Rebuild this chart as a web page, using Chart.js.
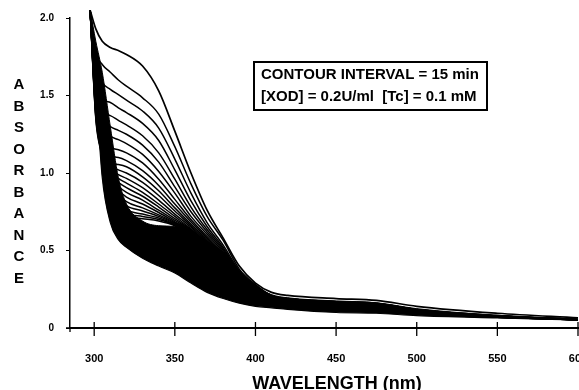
<!DOCTYPE html>
<html>
<head>
<meta charset="utf-8">
<script src="https://cdn.jsdelivr.net/npm/chart.js@4.4.1/dist/chart.umd.min.js"></script>
<style>
  html, body { margin: 0; padding: 0; background: #fff; }
</style>
</head>
<body>
<canvas id="myChart" width="579" height="390"></canvas>
<script>
// spectra (absorbance vs wavelength, nm)
const wavelengths = [297.5, 301, 305, 310, 315, 320, 330, 340, 350, 360, 370, 380, 390, 400, 410, 420, 450, 475, 500, 550, 600];

const topCurve = [2.05, 1.93, 1.85, 1.81, 1.79, 1.765, 1.69, 1.53, 1.27, 1.00, 0.76, 0.58, 0.40, 0.29, 0.23, 0.21, 0.19, 0.178, 0.14, 0.095, 0.065];

// the separated curves between the top one and the dense band
const middleCurves = [
  [2.05, 1.78, 1.70, 1.65, 1.60, 1.56, 1.485, 1.38, 1.17, 0.93, 0.72, 0.565, 0.38, 0.28, 0.21, 0.19, 0.17, 0.16, 0.12, 0.08, 0.055],
  [2.05, 1.70, 1.585, 1.54, 1.505, 1.47, 1.40, 1.29, 1.09, 0.87, 0.68, 0.535, 0.37, 0.275, 0.21, 0.19, 0.17, 0.16, 0.12, 0.08, 0.055],
  [2.05, 1.62, 1.48, 1.455, 1.42, 1.39, 1.32, 1.21, 1.02, 0.82, 0.655, 0.52, 0.36, 0.27, 0.205, 0.185, 0.165, 0.155, 0.115, 0.078, 0.055],
  [2.05, 1.58, 1.40, 1.37, 1.34, 1.31, 1.24, 1.13, 0.96, 0.78, 0.635, 0.51, 0.355, 0.265, 0.205, 0.185, 0.165, 0.155, 0.115, 0.078, 0.055],
  [2.05, 1.55, 1.36, 1.30, 1.275, 1.25, 1.18, 1.07, 0.91, 0.75, 0.62, 0.50, 0.35, 0.26, 0.20, 0.18, 0.16, 0.15, 0.11, 0.077, 0.054],
  [2.05, 1.52, 1.32, 1.24, 1.215, 1.19, 1.12, 1.01, 0.87, 0.72, 0.605, 0.49, 0.345, 0.258, 0.20, 0.18, 0.16, 0.15, 0.11, 0.077, 0.054],
  [2.05, 1.50, 1.30, 1.17, 1.15, 1.13, 1.065, 0.96, 0.83, 0.70, 0.59, 0.48, 0.34, 0.255, 0.195, 0.175, 0.155, 0.145, 0.105, 0.075, 0.054],
  [2.05, 1.48, 1.28, 1.115, 1.10, 1.08, 1.015, 0.92, 0.80, 0.685, 0.58, 0.47, 0.335, 0.252, 0.195, 0.175, 0.155, 0.145, 0.105, 0.075, 0.054],
  [2.05, 1.46, 1.26, 1.075, 1.055, 1.04, 0.975, 0.885, 0.775, 0.67, 0.57, 0.465, 0.33, 0.25, 0.19, 0.17, 0.15, 0.14, 0.10, 0.074, 0.054],
  [2.05, 1.45, 1.24, 1.05, 1.02, 1.00, 0.94, 0.855, 0.755, 0.66, 0.56, 0.46, 0.325, 0.248, 0.19, 0.17, 0.15, 0.14, 0.10, 0.074, 0.053],
  [2.05, 1.44, 1.22, 1.03, 0.99, 0.965, 0.905, 0.825, 0.735, 0.65, 0.555, 0.455, 0.32, 0.245, 0.185, 0.165, 0.145, 0.135, 0.098, 0.073, 0.053],
  [2.05, 1.43, 1.20, 1.01, 0.965, 0.935, 0.875, 0.80, 0.72, 0.64, 0.55, 0.45, 0.318, 0.243, 0.185, 0.165, 0.145, 0.135, 0.098, 0.073, 0.053],
  [2.05, 1.42, 1.18, 0.99, 0.94, 0.905, 0.85, 0.78, 0.705, 0.635, 0.545, 0.445, 0.315, 0.24, 0.18, 0.16, 0.14, 0.13, 0.095, 0.072, 0.053],
  [2.05, 1.41, 1.17, 0.98, 0.915, 0.875, 0.825, 0.76, 0.695, 0.63, 0.54, 0.44, 0.31, 0.238, 0.18, 0.16, 0.14, 0.13, 0.095, 0.072, 0.053],
  [2.05, 1.40, 1.16, 0.97, 0.89, 0.845, 0.80, 0.745, 0.685, 0.625, 0.535, 0.435, 0.305, 0.235, 0.175, 0.155, 0.135, 0.125, 0.092, 0.071, 0.053],
  [2.05, 1.39, 1.15, 0.96, 0.865, 0.815, 0.775, 0.73, 0.68, 0.62, 0.53, 0.43, 0.30, 0.232, 0.175, 0.155, 0.135, 0.125, 0.092, 0.071, 0.053],
  [2.05, 1.38, 1.14, 0.95, 0.845, 0.79, 0.755, 0.72, 0.675, 0.615, 0.525, 0.425, 0.295, 0.23, 0.17, 0.15, 0.13, 0.12, 0.09, 0.07, 0.053],
  [2.05, 1.37, 1.13, 0.94, 0.825, 0.765, 0.735, 0.71, 0.67, 0.61, 0.52, 0.42, 0.29, 0.228, 0.17, 0.15, 0.13, 0.12, 0.09, 0.07, 0.053],
  [2.05, 1.36, 1.12, 0.93, 0.805, 0.745, 0.72, 0.70, 0.665, 0.605, 0.515, 0.415, 0.285, 0.225, 0.165, 0.145, 0.125, 0.115, 0.088, 0.069, 0.053],
  [2.05, 1.35, 1.11, 0.92, 0.785, 0.725, 0.705, 0.69, 0.66, 0.60, 0.51, 0.41, 0.28, 0.222, 0.165, 0.145, 0.125, 0.115, 0.088, 0.069, 0.053],
];

// upper edge of the solid black mass of late curves, and the last (lowest) curve
const denseEdge = [2.05, 1.85, 1.65, 1.30, 0.97, 0.80, 0.69, 0.66, 0.655, 0.62, 0.56, 0.49, 0.37, 0.27, 0.215, 0.195, 0.175, 0.163, 0.125, 0.082, 0.055];
const bottomCurve = [2.05, 1.55, 0.97, 0.68, 0.57, 0.52, 0.45, 0.40, 0.355, 0.29, 0.23, 0.19, 0.16, 0.14, 0.13, 0.12, 0.10, 0.095, 0.08, 0.065, 0.052];

const xTicks = [300, 350, 400, 450, 500, 550, 600];
const yTicks = [0, 0.5, 1.0, 1.5, 2.0];
const xTitle = 'WAVELENGTH (nm)';
const yTitle = 'ABSORBANCE';
const noteLines = ['CONTOUR INTERVAL = 15 min', '[XOD] = 0.2U/ml  [Tc] = 0.1 mM'];

const FONT = '"Liberation Sans", Arial, Helvetica, sans-serif';

const toPoints = (ys) => ys.map((y, i) => ({ x: wavelengths[i], y }));

const lineStyle = {
  borderColor: '#000',
  backgroundColor: '#000',
  borderWidth: 1.5,
  pointRadius: 0,
  cubicInterpolationMode: 'monotone',
  clip: false,
  fill: false,
};

const datasets = [
  { ...lineStyle, label: 'first', data: toPoints(topCurve), borderWidth: 1.7 },
  ...middleCurves.map((c, i) => ({ ...lineStyle, label: 'curve ' + (i + 2), data: toPoints(c) })),
  { ...lineStyle, label: 'dense', data: toPoints(denseEdge), borderWidth: 1, fill: '+1' },
  { ...lineStyle, label: 'last', data: toPoints(bottomCurve), borderWidth: 1.2 },
];

const decorations = {
  id: 'decorations',
  afterDraw(chart) {
    const { ctx, chartArea: { left, bottom }, scales: { x } } = chart;
    ctx.save();
    ctx.strokeStyle = '#000';
    ctx.fillStyle = '#000';

    // x ticks cross the axis line
    ctx.lineWidth = 1.3;
    ctx.font = 'bold 11px ' + FONT;
    ctx.textAlign = 'center';
    ctx.textBaseline = 'middle';
    xTicks.forEach((v) => {
      const px = x.getPixelForValue(v);
      ctx.beginPath();
      ctx.moveTo(px, bottom - 6);
      ctx.lineTo(px, bottom + 8);
      ctx.stroke();
      ctx.fillText(String(v), px, bottom + 31);
    });
    // origin cross
    ctx.beginPath();
    ctx.moveTo(left - 4, bottom);
    ctx.lineTo(left, bottom);
    ctx.moveTo(left, bottom);
    ctx.lineTo(left, bottom + 4);
    ctx.stroke();

    // stacked y title
    ctx.font = 'bold 15px ' + FONT;
    [...yTitle].forEach((ch, i) => ctx.fillText(ch, 19, 85 + i * 21.5));

    ctx.font = 'bold 18px ' + FONT;
    ctx.fillText(xTitle, 337, 384);

    // note box
    ctx.lineWidth = 2;
    ctx.strokeRect(254, 62, 233, 48);
    ctx.font = 'bold 15px ' + FONT;
    ctx.textAlign = 'left';
    ctx.textBaseline = 'alphabetic';
    ctx.fillText(noteLines[0], 261, 79);
    ctx.fillText(noteLines[1], 261, 101);
    ctx.restore();
  },
};

const config = {
  type: 'line',
  data: { datasets },
  options: {
    responsive: false,
    animation: false,
    devicePixelRatio: 1,
    layout: { padding: { left: 0, right: 1, top: 18, bottom: 0 } },
    plugins: { legend: { display: false }, tooltip: { enabled: false } },
    scales: {
      x: {
        type: 'linear',
        min: 285,
        max: 600,
        afterFit(scale) { scale.height = 62; },
        ticks: { display: false },
        grid: { display: false },
        border: { display: true, color: '#000', width: 2 },
      },
      y: {
        type: 'linear',
        min: 0,
        max: 2.0,
        afterFit(scale) { scale.width = 70; },
        afterBuildTicks(scale) { scale.ticks = yTicks.map((v) => ({ value: v })); },
        ticks: {
          callback: (v) => (v === 0 ? '0' : v.toFixed(1)),
          font: { family: FONT, weight: 'bold', size: 10 },
          color: '#000',
          padding: 12,
        },
        grid: { drawOnChartArea: false, tickLength: 4, color: '#000', lineWidth: 1 },
        border: { display: true, color: '#000', width: 1.5 },
      },
    },
  },
  plugins: [decorations],
};

new Chart(document.getElementById('myChart'), config);
</script>
</body>
</html>
